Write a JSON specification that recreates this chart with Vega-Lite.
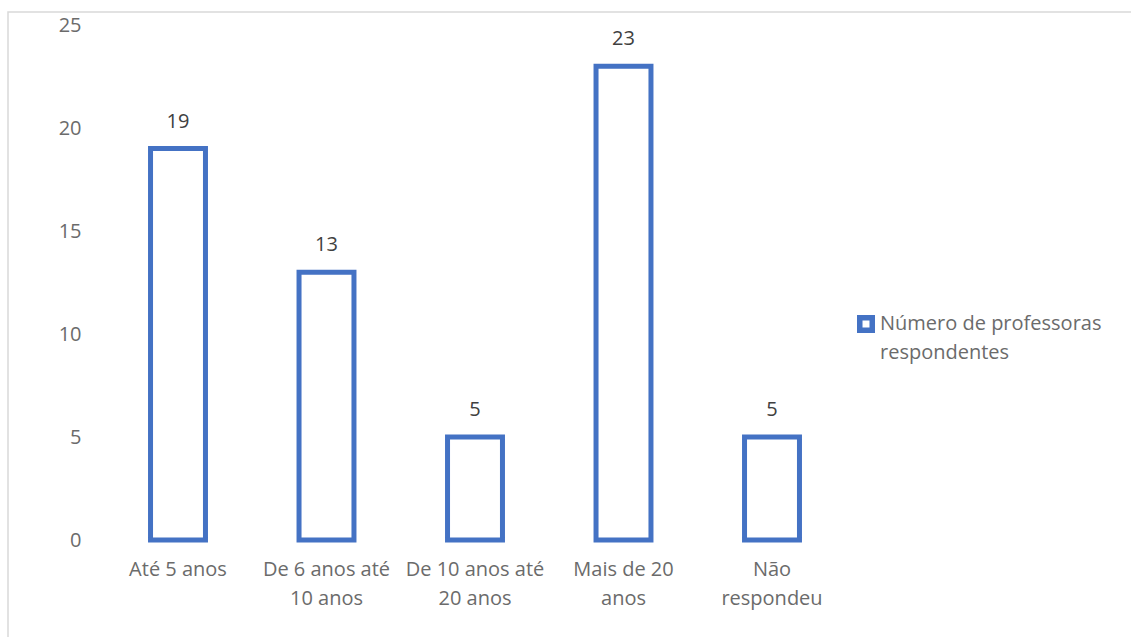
{
  "$schema": "https://vega.github.io/schema/vega-lite/v6.json",
  "autosize": {"type": "none"},
  "padding": {"left": 8, "top": 12, "right": 0, "bottom": 0},
  "width": 1135,
  "height": 640,
  "background": "white",
  "config": {
    "font": "Open Sans",
    "view": {"stroke": "#d9d9d9", "strokeWidth": 1.5},
    "style": {"guide-label": {"lineHeight": 29}}
  },
  "data": {
    "values": [
      {"faixa": "Até 5 anos", "serie": "Número de professoras respondentes", "n": 19},
      {"faixa": "De 6 anos até 10 anos", "serie": "Número de professoras respondentes", "n": 13},
      {"faixa": "De 10 anos até 20 anos", "serie": "Número de professoras respondentes", "n": 5},
      {"faixa": "Mais de 20 anos", "serie": "Número de professoras respondentes", "n": 23},
      {"faixa": "Não respondeu", "serie": "Número de professoras respondentes", "n": 5}
    ]
  },
  "encoding": {
    "x": {
      "field": "faixa",
      "type": "nominal",
      "sort": null,
      "scale": {"range": [95.75, 838.25], "paddingInner": 0, "paddingOuter": 0},
      "axis": {
        "title": null,
        "orient": "bottom",
        "offset": -93,
        "domain": false,
        "ticks": false,
        "labelPadding": 0,
        "labelAngle": 0,
        "labelBaseline": "top",
        "labelFont": "Open Sans",
        "labelFontSize": 20,
        "labelColor": "#6b6b6b",
        "labelLineHeight": 29,
        "labelExpr": "datum.label == 'De 6 anos até 10 anos' ? ['De 6 anos até', '10 anos'] : datum.label == 'De 10 anos até 20 anos' ? ['De 10 anos até', '20 anos'] : datum.label == 'Mais de 20 anos' ? ['Mais de 20', 'anos'] : datum.label == 'Não respondeu' ? ['Não', 'respondeu'] : datum.label"
      }
    },
    "y": {
      "field": "n",
      "type": "quantitative",
      "scale": {"domain": [0, 25], "range": [528, 13], "nice": false},
      "axis": {
        "title": null,
        "orient": "left",
        "offset": -73,
        "domain": false,
        "ticks": false,
        "grid": false,
        "labelPadding": 0,
        "values": [0, 5, 10, 15, 20, 25],
        "labelFont": "Open Sans",
        "labelFontSize": 20,
        "labelColor": "#6b6b6b"
      }
    }
  },
  "layer": [
    {
      "mark": {"type": "bar", "fill": "white", "strokeWidth": 5, "width": {"band": 0.37}},
      "encoding": {
        "stroke": {
          "field": "serie",
          "type": "nominal",
          "scale": {"range": ["#4472C4"]},
          "legend": {
            "title": null,
            "orient": "none",
            "legendX": 848,
            "legendY": 302,
            "padding": 0,
            "symbolType": "square",
            "symbolSize": 156,
            "symbolStrokeWidth": 5.5,
            "symbolFillColor": "white",
            "symbolOffset": 0,
            "labelOffset": 4,
            "labelFont": "Open Sans",
            "labelFontSize": 20,
            "labelColor": "#6b6b6b",
            "labelLimit": 400,
            "labelBaseline": "middle",
            "labelExpr": "['Número de professoras', 'respondentes']"
          }
        }
      }
    },
    {
      "mark": {"type": "text", "baseline": "alphabetic", "dy": -21, "font": "Open Sans", "fontSize": 20, "color": "#404040"},
      "encoding": {"text": {"field": "n", "type": "quantitative"}}
    }
  ]
}
